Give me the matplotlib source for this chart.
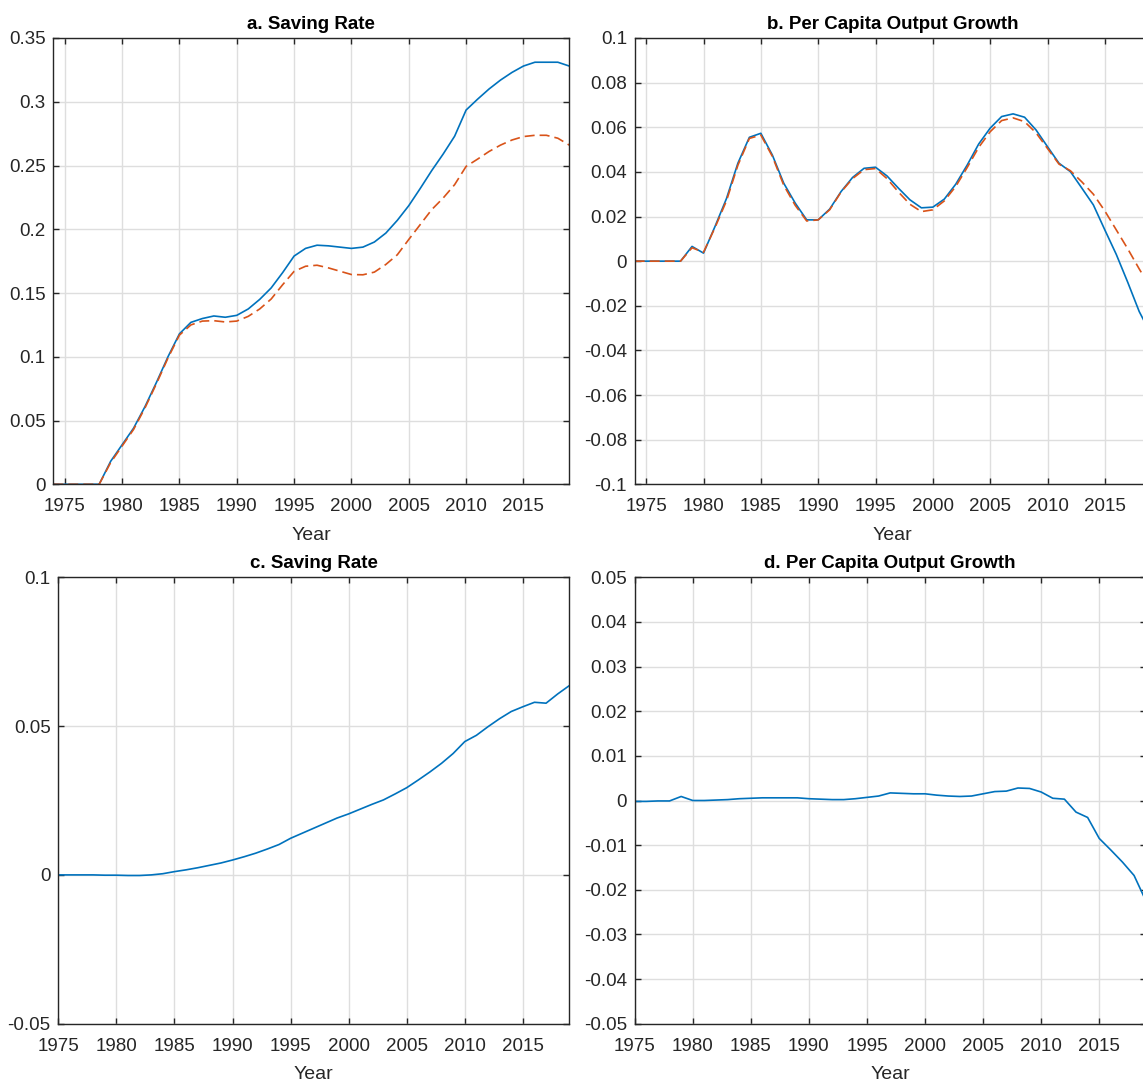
import numpy as np
import matplotlib
matplotlib.use("Agg")
import matplotlib.pyplot as plt
from matplotlib.ticker import FuncFormatter

plt.rcParams['font.family'] = ['Liberation Sans Narrow', 'Liberation Sans', 'DejaVu Sans']

## the data
years_top = list(range(1974, 2020))
years_bot = list(range(1975, 2020))

# a. saving rate (solid = blue, dashed = orange)
save_a_solid = [0, 0, 0, 0, 0, 0.018, 0.031, 0.044, 0.061, 0.080, 0.100, 0.118,
                0.127, 0.130, 0.132, 0.131, 0.1325, 0.1375, 0.145, 0.154, 0.166, 0.179,
                0.185, 0.1875, 0.187, 0.186, 0.185, 0.186, 0.190, 0.197, 0.207, 0.2185,
                0.232, 0.246, 0.259, 0.273, 0.2935, 0.302, 0.310, 0.317, 0.323, 0.328,
                0.331, 0.331, 0.331, 0.328]
save_a_dash = [0, 0, 0, 0, 0, 0.017, 0.030, 0.043, 0.060, 0.079, 0.099, 0.117,
               0.125, 0.128, 0.1283, 0.1273, 0.128, 0.1317, 0.1375, 0.1453, 0.1565, 0.167,
               0.171, 0.1718, 0.1697, 0.1671, 0.1645, 0.1643, 0.1664, 0.1724, 0.180, 0.192,
               0.2037, 0.2154, 0.2245, 0.235, 0.2493, 0.255, 0.261, 0.266, 0.270, 0.2727,
               0.2737, 0.2737, 0.2714, 0.266]

# b. per capita output growth
grow_b_solid = [0, 0, 0, 0, 0, 0.0066, 0.0036, 0.0155, 0.028, 0.0439, 0.0555, 0.0573,
                0.0476, 0.0349, 0.026, 0.0185, 0.0185, 0.0233, 0.0312, 0.0375, 0.0416, 0.0421,
                0.0382, 0.0327, 0.0275, 0.0239, 0.0242, 0.0278, 0.0345, 0.0431, 0.0525, 0.0596,
                0.0648, 0.066, 0.0645, 0.0588, 0.0513, 0.0439, 0.0401, 0.0327, 0.0252, 0.014,
                0.003, -0.0095, -0.0226, -0.0325]
grow_b_dash = [0, 0, 0, 0, 0, 0.006, 0.004, 0.015, 0.027, 0.043, 0.055, 0.0565,
               0.047, 0.034, 0.025, 0.018, 0.0185, 0.023, 0.031, 0.037, 0.041, 0.0415,
               0.037, 0.031, 0.0255, 0.0222, 0.023, 0.027, 0.0335, 0.042, 0.051, 0.058,
               0.063, 0.0642, 0.0625, 0.0575, 0.0505, 0.0435, 0.0405, 0.0355, 0.030, 0.0225,
               0.014, 0.0055, -0.0035, -0.012]

# c. saving rate (difference)
save_c = [0, 0, 0, 0, -0.0001, -0.0001, -0.0002, -0.0002, 0.0, 0.0004, 0.0011,
          0.0017, 0.0024, 0.0032, 0.0040, 0.0050, 0.0061, 0.0073, 0.0087, 0.0102, 0.0123,
          0.0140, 0.0157, 0.0174, 0.0191, 0.0205, 0.0221, 0.0237, 0.0252, 0.0272, 0.0293,
          0.0319, 0.0346, 0.0375, 0.0408, 0.0448, 0.0469, 0.0498, 0.0525, 0.0549, 0.0565,
          0.058, 0.0577, 0.0608, 0.0636]

# d. per capita output growth (difference)
grow_d = [-0.0002, -0.0002, -0.0001, -0.0001, 0.0009, 0.0, 0.0, 0.0001, 0.0002, 0.0004,
          0.0005, 0.0006, 0.0006, 0.0006, 0.0006, 0.0004, 0.0003, 0.0002, 0.0002, 0.0004,
          0.0007, 0.001, 0.0017, 0.0016, 0.0015, 0.0015, 0.0012, 0.001, 0.0009, 0.001,
          0.0015, 0.002, 0.0021, 0.0028, 0.0027, 0.0019, 0.0005, 0.0003, -0.0026, -0.0038,
          -0.0085, -0.0111, -0.0138, -0.0168, -0.0224]

year_ticks = list(range(1975, 2020, 5))

blue = '#0072BD'
orange = '#D95319'

fig = plt.figure(figsize=(11.43, 10.88), dpi=100)
W, H = 1143.0, 1088.0

def box(l, t, r, b):
    return [l / W, 1 - b / H, (r - l) / W, (b - t) / H]

def fmt(v, pos):
    v = round(v, 10)
    if v == 0:
        return '0'
    return '%g' % v

def style(ax, title, xlim, ylim, yticks):
    ax.set_xlim(xlim)
    ax.set_ylim(ylim)
    ax.set_xticks(year_ticks)
    ax.set_yticks(yticks)
    ax.yaxis.set_major_formatter(FuncFormatter(fmt))
    ax.grid(True, color='#dedede', lw=1.0)
    ax.set_axisbelow(True)
    ax.tick_params(direction='in', length=4.5, width=1.0, color='#262626',
                   top=True, right=True, labelsize=13.5, labelcolor='#262626')
    ax.tick_params(axis='x', pad=10)
    ax.tick_params(axis='y', pad=5.5)
    for s in ax.spines.values():
        s.set_color('#262626')
        s.set_linewidth(1.0)
    ax.set_title(title, fontsize=13.5, fontweight='bold', pad=6.5)
    ax.set_xlabel('Year', fontsize=14, color='#262626', labelpad=8.5)

ax1 = fig.add_axes(box(53.3, 38, 569.3, 484.3))
ax1.plot(years_top, save_a_solid, color=blue, lw=1.2)
ax1.plot(years_top, save_a_dash, color=orange, lw=1.2, dashes=(6, 3))
style(ax1, 'a. Saving Rate', (1974, 2019), (0, 0.35), np.arange(0, 0.351, 0.05))

ax2 = fig.add_axes(box(634.7, 38, 1150.7, 484.3))
ax2.plot(years_top, grow_b_solid, color=blue, lw=1.2)
ax2.plot(years_top, grow_b_dash, color=orange, lw=1.2, dashes=(6, 3))
style(ax2, 'b. Per Capita Output Growth', (1974, 2019), (-0.1, 0.1), np.arange(-0.1, 0.101, 0.02))

ax3 = fig.add_axes(box(58.3, 577.3, 569.3, 1023.7))
ax3.plot(years_bot, save_c, color=blue, lw=1.2)
style(ax3, 'c. Saving Rate', (1975, 2019), (-0.05, 0.1), np.arange(-0.05, 0.101, 0.05))

ax4 = fig.add_axes(box(634.7, 577.3, 1145.7, 1023.7))
ax4.plot(years_bot, grow_d, color=blue, lw=1.2)
style(ax4, 'd. Per Capita Output Growth', (1975, 2019), (-0.05, 0.05), np.arange(-0.05, 0.051, 0.01))

fig.savefig('out.png', dpi=100)
